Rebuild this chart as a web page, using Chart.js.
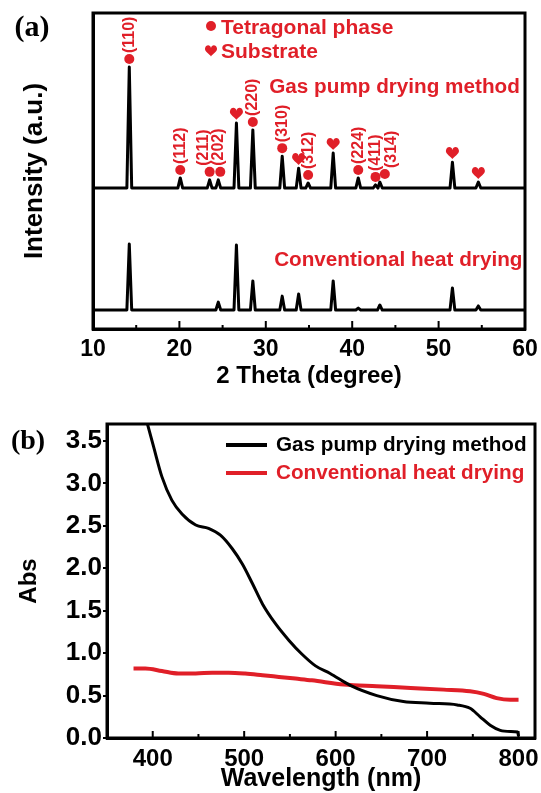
<!DOCTYPE html>
<html>
<head>
<meta charset="utf-8">
<script src="https://cdn.jsdelivr.net/npm/chart.js@4.4.1/dist/chart.umd.min.js"></script>
<style>
  body { margin: 0; background: #fff; }
  canvas { display: block; }
</style>
</head>
<body>
<canvas id="xrd-chart" width="541" height="395"></canvas>
<canvas id="abs-chart" width="541" height="398"></canvas>
<script>
// ---- (a) XRD patterns ----
const peakPositions = [14.2, 20.1, 23.5, 24.5, 26.6, 28.5, 31.9, 33.8, 34.9, 37.8, 40.7, 42.7, 43.2, 51.6, 54.6];
const peakPhase = ['t', 't', 't', 't', 's', 't', 't', 's', 't', 's', 't', 't', 't', 's', 's'];
const peakLabels = ['(110)', '(112)', '(211)', '(202)', '', '(220)', '(310)', '', '(312)', '', '(224)', '(411)', '(314)', '', ''];
const gasPumpBaseline = 44.6;
const gasPumpTops = [82.9, 47.8, 47.2, 47.2, 65.2, 63.0, 54.7, 50.9, 46.2, 55.7, 47.8, 45.6, 46.5, 52.8, 46.5];

const heatPeakPositions = [14.2, 24.5, 26.6, 28.5, 31.9, 33.8, 37.8, 40.7, 43.2, 51.6, 54.6];
const heatBaseline = 6.0;
const heatTops = [26.9, 8.5, 26.6, 15.2, 10.4, 11.1, 15.2, 6.6, 7.6, 13.0, 7.3];

const thetaTicks = [10, 20, 30, 40, 50, 60];

// ---- (b) absorption spectra ----
const gasPumpWavelength = [393, 401, 410, 421, 432, 447, 461, 474, 487, 498, 509, 520, 534, 549, 563, 578, 594, 616, 645, 674, 703, 733, 747, 758, 769, 780, 791, 799, 800];
const gasPumpAbs = [3.75, 3.43, 3.08, 2.80, 2.64, 2.51, 2.47, 2.39, 2.23, 2.05, 1.82, 1.58, 1.35, 1.15, 0.99, 0.85, 0.76, 0.62, 0.50, 0.43, 0.41, 0.39, 0.35, 0.25, 0.15, 0.09, 0.077, 0.07, 0.02];
const heatWavelength = [379, 392, 410, 428, 447, 465, 483, 501, 520, 538, 556, 574, 609, 645, 682, 718, 747, 762, 776, 791, 800];
const heatAbs = [0.82, 0.82, 0.79, 0.76, 0.76, 0.77, 0.77, 0.76, 0.74, 0.72, 0.70, 0.68, 0.63, 0.61, 0.59, 0.57, 0.55, 0.52, 0.47, 0.45, 0.45];

const wavelengthTicks = [400, 500, 600, 700, 800];
const absTicks = [0, 0.5, 1.0, 1.5, 2.0, 2.5, 3.0, 3.5];

const RED = '#e01f28';
const SANS = '"Liberation Sans", Arial, sans-serif';
const SERIF = '"Liberation Serif", "Times New Roman", serif';

// a flat baseline with a narrow spike at every peak
function buildTrace(positions, tops, baseline) {
    const halfWidth = 0.28;
    const points = [{ x: 10, y: baseline }];
    positions.forEach((pos, i) => {
        points.push({ x: pos - halfWidth, y: baseline });
        points.push({ x: pos, y: tops[i] });
        points.push({ x: pos + halfWidth, y: baseline });
    });
    points.push({ x: 60, y: baseline });
    return points;
}

function toPoints(xs, ys) {
    return xs.map((x, i) => ({ x: x, y: ys[i] }));
}

function fixedTicks(values) {
    return scale => { scale.ticks = values.map(v => ({ value: v })); };
}

function drawHeart(ctx, x, y, s) {
    ctx.beginPath();
    ctx.moveTo(x, y + s * 0.45);
    ctx.bezierCurveTo(x - s * 0.1, y + s * 0.3, x - s * 0.55, y + s * 0.05, x - s * 0.5, y - s * 0.2);
    ctx.bezierCurveTo(x - s * 0.45, y - s * 0.55, x - s * 0.05, y - s * 0.55, x, y - s * 0.25);
    ctx.bezierCurveTo(x + s * 0.05, y - s * 0.55, x + s * 0.45, y - s * 0.55, x + s * 0.5, y - s * 0.2);
    ctx.bezierCurveTo(x + s * 0.55, y + s * 0.05, x + s * 0.1, y + s * 0.3, x, y + s * 0.45);
    ctx.fill();
}

function drawDot(ctx, x, y, r) {
    ctx.beginPath();
    ctx.arc(x, y, r, 0, Math.PI * 2);
    ctx.fill();
}

// closed frame plus inward tick marks on the bottom axis
const frameTicks = {
    id: 'frameTicks',
    afterDraw(chart, args, opts) {
        const { ctx, chartArea: a, scales: { x } } = chart;
        ctx.save();
        ctx.strokeStyle = '#000';
        ctx.lineWidth = 2;
        const values = x.ticks.map(t => t.value);
        const step = values[1] - values[0];
        values.forEach(v => {
            [v, v + step / 2].forEach((tv, k) => {
                if (tv <= x.min || tv >= x.max) return;
                const px = x.getPixelForValue(tv);
                ctx.beginPath();
                ctx.moveTo(px, a.bottom);
                ctx.lineTo(px, a.bottom - (k === 0 ? opts.major : opts.minor));
                ctx.stroke();
            });
        });
        ctx.lineWidth = 3;
        ctx.strokeRect(a.left, a.top, a.right - a.left, a.bottom - a.top);
        ctx.restore();
    }
};

// peak markers, hkl labels, legend and series names for the XRD panel
const xrdMarks = {
    id: 'xrdMarks',
    afterDatasetsDraw(chart, args, opts) {
        const { ctx, scales: { x, y } } = chart;
        ctx.save();
        ctx.fillStyle = RED;
        peakPositions.forEach((pos, i) => {
            const label = peakLabels[i];
            const nudge = opts.nudge[label] || [0, 0];
            const px = x.getPixelForValue(pos) + nudge[0];
            const py = y.getPixelForValue(gasPumpTops[i]) - 8;
            if (peakPhase[i] === 't') {
                drawDot(ctx, px, py, 5);
            } else {
                drawHeart(ctx, px, py - 1, 13);
            }
            if (label) {
                ctx.save();
                ctx.translate(px + nudge[1], py - 6);
                ctx.rotate(-Math.PI / 2);
                ctx.font = 'bold 16px ' + SANS;
                ctx.textAlign = 'left';
                ctx.textBaseline = 'middle';
                ctx.fillText(label, 0, 0);
                ctx.restore();
            }
        });

        ctx.font = 'bold 21px ' + SANS;
        ctx.textAlign = 'left';
        ctx.textBaseline = 'middle';
        drawDot(ctx, 211, 26, 5);
        ctx.fillText('Tetragonal phase', 221, 28);
        drawHeart(ctx, 211, 51, 12);
        ctx.fillText('Substrate', 221, 52);

        ctx.font = 'bold 20.7px ' + SANS;
        ctx.fillText('Gas pump drying method', x.getPixelForValue(30.4), y.getPixelForValue(76.6));
        ctx.textAlign = 'right';
        ctx.fillText('Conventional heat drying', x.getPixelForValue(59.7), y.getPixelForValue(21.6));

        ctx.fillStyle = '#000';
        ctx.textAlign = 'center';
        ctx.font = 'bold 30px ' + SERIF;
        ctx.fillText('(a)', 32, 28);
        ctx.restore();
    }
};

// legend and panel letter for the absorption panel
const absMarks = {
    id: 'absMarks',
    afterDraw(chart) {
        const { ctx } = chart;
        ctx.save();
        ctx.font = 'bold 20.7px ' + SANS;
        ctx.textAlign = 'left';
        ctx.textBaseline = 'middle';
        [['Gas pump drying method', '#000', 50], ['Conventional heat drying', RED, 78]].forEach(([text, color, ly]) => {
            ctx.strokeStyle = color;
            ctx.lineWidth = 4;
            ctx.beginPath();
            ctx.moveTo(226, ly);
            ctx.lineTo(267, ly);
            ctx.stroke();
            ctx.fillStyle = color;
            ctx.fillText(text, 276, ly);
        });
        ctx.fillStyle = '#000';
        ctx.textAlign = 'center';
        ctx.font = 'bold 28px ' + SERIF;
        ctx.fillText('(b)', 28, 47);
        ctx.restore();
    }
};

function displayXrd() {
    const ctx = document.getElementById('xrd-chart').getContext('2d');
    new Chart(ctx, {
        type: 'line',
        data: {
            datasets: [
                { data: buildTrace(peakPositions, gasPumpTops, gasPumpBaseline), borderColor: '#000', borderWidth: 3 },
                { data: buildTrace(heatPeakPositions, heatTops, heatBaseline), borderColor: '#000', borderWidth: 3 }
            ]
        },
        options: {
            responsive: false,
            animation: false,
            elements: { point: { radius: 0 }, line: { tension: 0, borderJoinStyle: 'round' } },
            layout: { padding: { top: 13, right: 16, bottom: 0, left: 0 } },
            plugins: {
                legend: { display: false },
                tooltip: { enabled: false },
                xrdMarks: { nudge: { '(202)': [2, -2], '(314)': [5, 7], '(211)': [0, -6] } },
                frameTicks: { major: 8, minor: 4 }
            },
            scales: {
                x: {
                    type: 'linear', min: 10, max: 60,
                    afterBuildTicks: fixedTicks(thetaTicks),
                    ticks: { color: '#000', font: { family: SANS, size: 23, weight: 'bold' }, padding: 0 },
                    grid: { display: false, drawTicks: true, tickLength: 7 },
                    border: { display: true, color: '#000', width: 3 },
                    title: { display: true, text: '2 Theta (degree)', color: '#000', font: { family: SANS, size: 24, weight: 'bold' }, padding: { top: 0, bottom: 4 } },
                    afterFit(scale) { scale.height = 66; }
                },
                y: {
                    min: 0, max: 100,
                    ticks: { display: false },
                    grid: { display: false, drawTicks: false },
                    border: { display: true, color: '#000', width: 3 },
                    title: { display: true, text: 'Intensity (a.u.)', color: '#000', font: { family: SANS, size: 26, weight: 'bold' }, padding: { top: 19, bottom: 0 } },
                    afterFit(scale) { scale.width = 93; }
                }
            }
        },
        plugins: [xrdMarks, frameTicks]
    });
}

function displayAbsorbance() {
    const ctx = document.getElementById('abs-chart').getContext('2d');
    new Chart(ctx, {
        type: 'line',
        data: {
            datasets: [
                { label: 'Gas pump drying method', data: toPoints(gasPumpWavelength, gasPumpAbs), borderColor: '#000', borderWidth: 3 },
                { label: 'Conventional heat drying', data: toPoints(heatWavelength, heatAbs), borderColor: RED, borderWidth: 4 }
            ]
        },
        options: {
            responsive: false,
            animation: false,
            elements: { point: { radius: 0 }, line: { cubicInterpolationMode: 'monotone' } },
            layout: { padding: { top: 29, right: 6, bottom: 0, left: 0 } },
            plugins: {
                legend: { display: false },
                tooltip: { enabled: false },
                frameTicks: { major: 7, minor: 4 }
            },
            scales: {
                x: {
                    type: 'linear', min: 350, max: 818,
                    afterBuildTicks: fixedTicks(wavelengthTicks),
                    ticks: { color: '#000', font: { family: SANS, size: 24, weight: 'bold' }, padding: 0 },
                    grid: { display: false, drawTicks: true, tickLength: 7 },
                    border: { display: true, color: '#000', width: 3 },
                    title: { display: true, text: 'Wavelength (nm)', color: '#000', font: { family: SANS, size: 25, weight: 'bold', lineHeight: 1.1 }, padding: { top: 0, bottom: 0 } },
                    afterFit(scale) { scale.height = 55; }
                },
                y: {
                    min: 0, max: 3.7,
                    afterBuildTicks: fixedTicks(absTicks),
                    ticks: { color: '#000', font: { family: SANS, size: 26, weight: 'bold' }, padding: 1, callback: v => v.toFixed(1) },
                    grid: { display: true, drawOnChartArea: false, drawTicks: true, tickLength: 4, color: '#000', lineWidth: 2 },
                    border: { display: true, color: '#000', width: 3 },
                    title: { display: true, text: 'Abs', color: '#000', font: { family: SANS, size: 24, weight: 'bold' }, padding: { top: 15, bottom: 0 } },
                    afterFit(scale) { scale.width = 107; }
                }
            }
        },
        plugins: [absMarks, frameTicks]
    });
}

displayXrd();
displayAbsorbance();
</script>
</body>
</html>
